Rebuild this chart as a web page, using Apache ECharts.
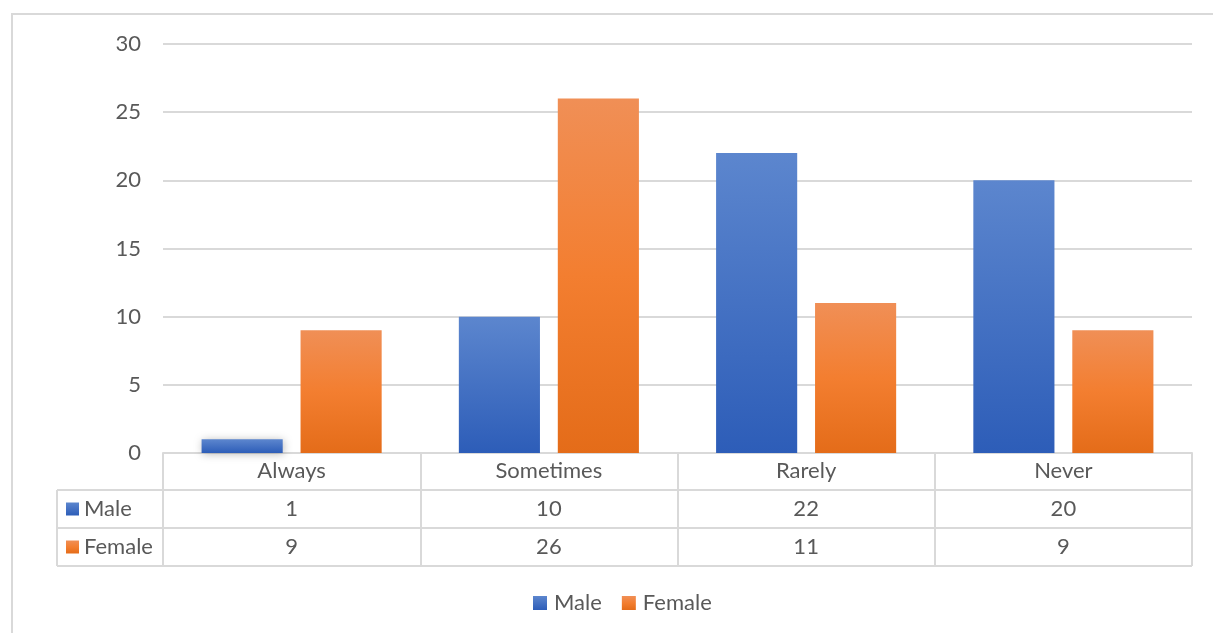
<!DOCTYPE html>
<html>
<head>
<meta charset="utf-8">
<script src="https://cdn.jsdelivr.net/npm/echarts@6/dist/echarts.min.js"></script>
<style>
  html, body { margin: 0; padding: 0; background: #ffffff; }
  #chart { width: 1213px; height: 633px; }
</style>
</head>
<body>
<div id="chart"></div>
<script>
// Responses by frequency, split by gender
const categories = ['Always', 'Sometimes', 'Rarely', 'Never'];
const maleValues = [1, 10, 22, 20];
const femaleValues = [9, 26, 11, 9];
const seriesNames = ['Male', 'Female'];
const yTicks = [0, 5, 10, 15, 20, 25, 30];

const FONT = 'Lato';
const TEXT = '#595959';
const LINE = '#d9d9d9';

const blueFill = new echarts.graphic.LinearGradient(0, 0, 0, 1, [
  { offset: 0, color: '#5c86ce' },
  { offset: 1, color: '#2d5db8' }
]);
const orangeFill = new echarts.graphic.LinearGradient(0, 0, 0, 1, [
  { offset: 0, color: '#f08f56' },
  { offset: 0.5, color: '#f37e30' },
  { offset: 1, color: '#e46c19' }
]);

const chart = echarts.init(document.getElementById('chart'), null, { renderer: 'canvas' });

const barShadow = { shadowBlur: 8, shadowColor: 'rgba(0,0,0,0.28)', shadowOffsetX: 1, shadowOffsetY: 1 };

chart.setOption({
  animation: false,
  textStyle: { fontFamily: FONT },
  grid: { left: 163, right: 21, top: 44, bottom: 180, containLabel: false },
  legend: {
    data: seriesNames,
    top: 587,
    left: 528,
    icon: 'rect',
    itemWidth: 14,
    itemHeight: 14,
    itemGap: 20,
    textStyle: { fontFamily: FONT, fontSize: 22, color: TEXT, padding: [0, 0, 0, 2] }
  },
  xAxis: {
    type: 'category',
    data: categories,
    axisLine: { show: true, lineStyle: { color: LINE, width: 2 } },
    axisTick: { show: true, length: 113, lineStyle: { color: LINE, width: 2 } },
    axisLabel: { fontFamily: FONT, fontSize: 22, color: TEXT, margin: 7 },
    splitLine: { show: false }
  },
  yAxis: {
    type: 'value',
    min: yTicks[0],
    max: yTicks[yTicks.length - 1],
    interval: 5,
    axisLine: { show: false },
    axisTick: { show: false },
    axisLabel: { fontFamily: FONT, fontSize: 22, color: TEXT, margin: 22 },
    splitLine: { lineStyle: { color: LINE, width: 2 } }
  },
  series: [
    {
      name: seriesNames[0],
      type: 'bar',
      data: maleValues,
      barGap: '22%',
      barCategoryGap: '30%',
      itemStyle: Object.assign({ color: blueFill }, barShadow)
    },
    {
      name: seriesNames[1],
      type: 'bar',
      data: femaleValues,
      itemStyle: Object.assign({ color: orangeFill }, barShadow)
    }
  ]
});

// Data table beneath the axis, built from the same arrays
const tableLeft = 57;
const axisRight = 1192;
const rowLines = [490, 528, 566];
const rowCenters = [509, 547];
const rowValues = [maleValues, femaleValues];
const rowFills = [blueFill, orangeFill];

const g = [];
// outer chart frame
g.push({ type: 'rect', shape: { x: 12, y: 14, width: 1215, height: 640 }, style: { fill: null, stroke: LINE, lineWidth: 2 }, silent: true });
// table horizontal rules
rowLines.forEach(y => {
  g.push({ type: 'line', shape: { x1: tableLeft, y1: y, x2: axisRight, y2: y }, style: { stroke: LINE, lineWidth: 2 }, silent: true });
});
// left edge of the series-name column
g.push({ type: 'line', shape: { x1: tableLeft, y1: rowLines[0], x2: tableLeft, y2: rowLines[2] }, style: { stroke: LINE, lineWidth: 2 }, silent: true });

rowValues.forEach((vals, r) => {
  const cy = rowCenters[r];
  g.push({ type: 'rect', shape: { x: 66, y: cy - 6.5, width: 13, height: 13 }, style: { fill: rowFills[r] }, silent: true });
  g.push({ type: 'text', x: 84, y: cy, style: { text: seriesNames[r], font: '22px ' + FONT, fill: TEXT, textVerticalAlign: 'middle', verticalAlign: 'middle' }, silent: true });
  vals.forEach((v, i) => {
    const cx = chart.convertToPixel({ xAxisIndex: 0 }, categories[i]);
    g.push({ type: 'text', x: cx, y: cy, style: { text: String(v), font: '22px ' + FONT, fill: TEXT, textAlign: 'center', align: 'center', textVerticalAlign: 'middle', verticalAlign: 'middle' }, silent: true });
  });
});

chart.setOption({ graphic: g });
</script>
</body>
</html>
